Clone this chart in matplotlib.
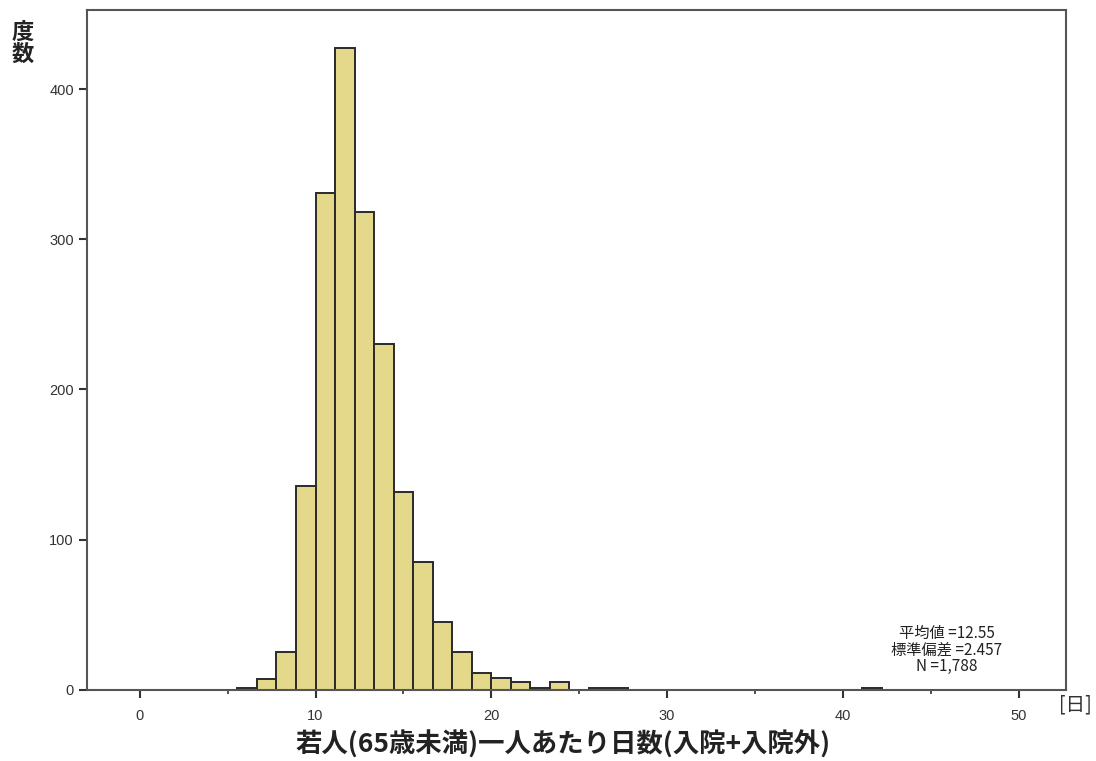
import numpy as np
import matplotlib
matplotlib.use("Agg")
import matplotlib.pyplot as plt

plt.rcParams['font.family'] = ['Noto Sans CJK JP', 'DejaVu Sans']

# histogram bins are 10/9 wide (SPSS style), left edges from 5.556
bin_width = 10 / 9
first_edge = 5 * bin_width
counts = [1, 7, 25, 136, 331, 427, 318, 230, 132, 85, 45, 25, 11, 8, 5, 1, 5, 0, 1, 1,
          0, 0, 0, 0, 0, 0, 0, 0, 0, 0, 0, 0, 1]
xticks = [0, 10, 20, 30, 40, 50]
yticks = [0, 100, 200, 300, 400]
stats_text = "平均値 =12.55\n標準偏差 =2.457\nN =1,788"
xlabel = "若人(65歳未満)一人あたり日数(入院+入院外)"
ylabel = "度\n数"

lefts = first_edge + bin_width * np.arange(len(counts))

fig = plt.figure(figsize=(10.96, 7.61), dpi=100)
ax = fig.add_axes([0.0794, 0.0933, 0.8932, 0.8936])

ax.bar(lefts, counts, width=bin_width, align='edge', color='#e4d98b',
       edgecolor='#2a2a2a', linewidth=1.4)

ax.set_xlim(-3.0, 52.7)
ax.set_ylim(0, 452.6)
ax.set_xticks(xticks)
ax.set_xticks(np.arange(5, 50, 10), minor=True)
ax.set_yticks(yticks)
ax.tick_params(axis='both', which='major', direction='out', length=6, width=1.5,
               labelsize=10.5, colors='#333333', labelcolor='#333333')
ax.tick_params(axis='x', which='minor', direction='out', length=3, width=1.2, colors='#333333')
ax.tick_params(axis='x', which='major', pad=8)
for lab in ax.get_xticklabels() + ax.get_yticklabels():
    lab.set_family(['Liberation Sans', 'DejaVu Sans'])

for s in ax.spines.values():
    s.set_color('#555555')
    s.set_linewidth(1.5)

ax.text(0.878, 0.022, stats_text, transform=ax.transAxes, ha='center', va='bottom',
        fontsize=11, linespacing=0.95, color='#222222')

fig.text(0.514, 0.021, xlabel, ha='center', va='center', fontsize=19, fontweight='bold',
         color='#222222')
fig.text(0.021, 0.943, ylabel, ha='center', va='center', fontsize=16, fontweight='bold',
         linespacing=0.9, color='#222222')
fig.text(0.981, 0.0736, "[日]", ha='center', va='center', fontsize=14, color='#333333')

fig.savefig("out.png", dpi=100)
